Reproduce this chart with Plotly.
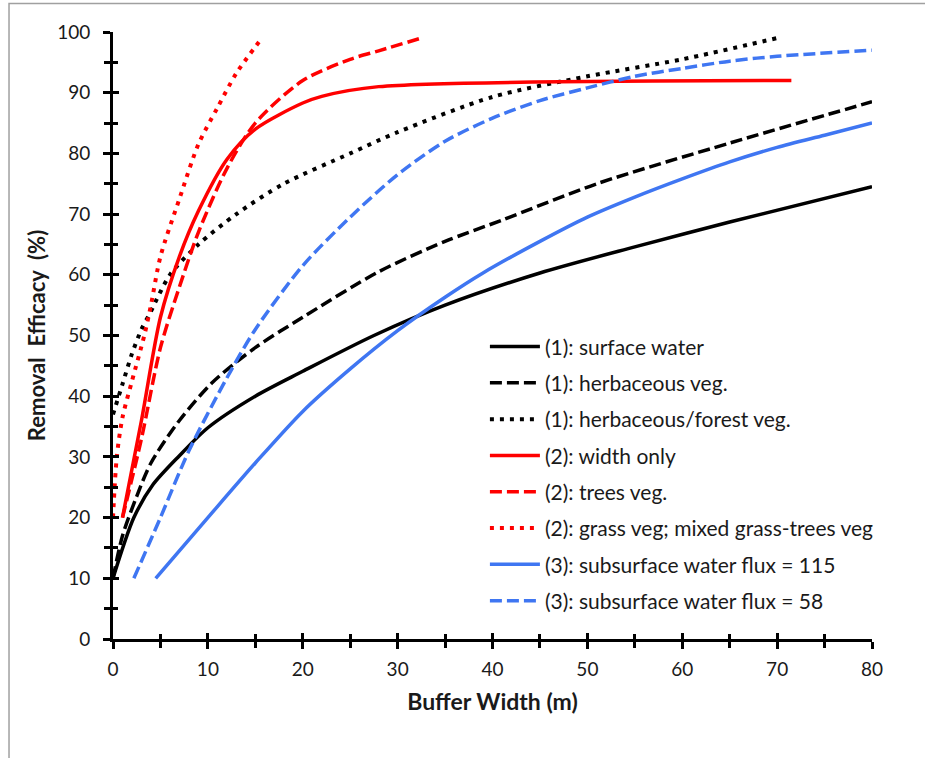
import plotly.graph_objects as go

# Buffer width (m) and removal efficacy (%) for each model curve
sw_x = [0, 2.2, 4.2, 7, 10, 15, 20, 27.5, 35, 45, 55, 65, 80]
sw_y = [10, 20, 25.4, 30.2, 34.8, 40, 44.1, 50, 55, 60.3, 64.6, 68.7, 74.5]

herb_x = [0, 1, 2.5, 4, 7, 10.5, 15, 20, 28, 35, 41, 51, 65, 80]
herb_y = [10, 17, 23.5, 29, 36, 42.3, 48, 53, 60.5, 65.5, 69, 75, 81.7, 88.5]

forest_x = [0, 1, 2, 3, 4, 6, 9, 13, 18, 25, 30, 40, 50, 60, 70]
forest_y = [37, 42, 47, 51, 54, 60, 65, 70, 75, 80, 83.5, 89.3, 92.7, 95.5, 99]

width_x = [1, 3, 5, 7, 9, 12, 15, 20, 22, 28, 71.5]
width_y = [20, 36, 53, 63, 70.5, 79, 84, 88.3, 89.4, 91, 92]

trees_x = [1, 3, 5, 7, 9, 12, 15, 20, 25, 28, 32.5]
trees_y = [20, 33, 48, 58, 67, 77.5, 85, 92, 95.5, 96.9, 99]

grass_x = [0, 0.4, 1, 2, 3.3, 4, 5, 7, 9, 11, 13, 15.7]
grass_y = [20, 30, 36.5, 42.5, 50, 55, 63, 72.5, 81.5, 87.5, 93.2, 99]

flux115_x = [4.5, 10, 15, 20, 25, 30, 35, 39, 45, 50, 55, 60, 65, 70, 75, 80]
flux115_y = [10, 20, 29, 37.5, 44.5, 50.8, 56.3, 60.3, 65.5, 69.5, 72.8, 75.8, 78.6, 81, 83, 85]

flux58_x = [2.2, 5, 8, 12, 15, 20, 25, 30, 35, 40, 45, 50, 55, 60, 65, 70, 80]
flux58_y = [10, 20, 31, 43, 51, 61.5, 69.5, 76.5, 82, 85.8, 88.7, 90.8, 92.7, 94, 95.2, 96, 97]

names = [
    "(1): surface water",
    "(1): herbaceous veg.",
    "(1): herbaceous/forest veg.",
    "(2): width only",
    "(2): trees veg.",
    "(2): grass veg; mixed grass-trees veg",
    "(3): subsurface water flux = 115",
    "(3): subsurface water flux = 58",
]

BLACK = "#000000"
RED = "#FF0000"
BLUE = "#3F76F2"
DASH = "12px,5px"
DOT = "4px,6px"

series = [
    (sw_x, sw_y, BLACK, "solid", 3.5),
    (herb_x, herb_y, BLACK, DASH, 3.5),
    (forest_x, forest_y, BLACK, DOT, 4),
    (width_x, width_y, RED, "solid", 3.5),
    (trees_x, trees_y, RED, DASH, 3.5),
    (grass_x, grass_y, RED, DOT, 4),
    (flux115_x, flux115_y, BLUE, "solid", 3.5),
    (flux58_x, flux58_y, BLUE, DASH, 3.5),
]

FONT = "Lato"
TXT = "#1a1a1a"

fig = go.Figure()
for i, ((xs, ys, col, dash, w), name) in enumerate(zip(series, names)):
    fig.add_trace(go.Scatter(
        x=xs, y=ys, mode="lines", name=name,
        legendgroup=f"g{i}",
        line=dict(color=col, dash=dash, width=w, shape="spline", smoothing=0.8),
    ))

axis_common = dict(
    showgrid=False, zeroline=False,
    showline=True, linecolor="black", linewidth=3,
    ticks="outside", ticklen=7, tickwidth=2.5, tickcolor="black",
    tickfont=dict(family=FONT, size=19, color=TXT),
    minor=dict(ticks="outside", ticklen=6, tickwidth=2.5, tickcolor="black", dtick=5),
)

fig.update_layout(
    width=925, height=758,
    margin=dict(l=113, r=53, t=32, b=119),
    paper_bgcolor="white", plot_bgcolor="white",
    font=dict(family=FONT, size=19, color=TXT),
    showlegend=True,
    legend=dict(
        x=0.49, y=0.515, xanchor="left", yanchor="top",
        bgcolor="rgba(0,0,0,0)", borderwidth=0,
        font=dict(family=FONT, size=21, color=TXT),
        tracegroupgap=6, itemwidth=50,
    ),
    xaxis=dict(
        range=[0, 80], dtick=10, tick0=0, ticklabelstandoff=4,
        title=dict(text="<b>Buffer Width (m)</b>", font=dict(family=FONT, size=23, color=TXT), standoff=16),
        **axis_common,
    ),
    yaxis=dict(
        range=[0, 100], dtick=10, tick0=0, ticklabelstandoff=9,
        title=dict(text="<b>Removal\u00a0 Efficacy\u00a0 (%)</b>", font=dict(family=FONT, size=22, color=TXT), standoff=6),
        **axis_common,
    ),
    # inner half of the crossing tick marks
    xaxis2=dict(
        overlaying="x", anchor="y", side="bottom", range=[0, 80], dtick=10, tick0=0,
        showgrid=False, zeroline=False, showline=False, showticklabels=False,
        ticks="inside", ticklen=6, tickwidth=2.5, tickcolor="black",
        minor=dict(ticks="inside", ticklen=5, tickwidth=2.5, tickcolor="black", dtick=5),
    ),
    yaxis2=dict(
        overlaying="y", anchor="x", side="left", range=[0, 100], dtick=10, tick0=0,
        showgrid=False, zeroline=False, showline=False, showticklabels=False,
        ticks="inside", ticklen=6, tickwidth=2.5, tickcolor="black",
        minor=dict(ticks="inside", ticklen=5, tickwidth=2.5, tickcolor="black", dtick=5),
    ),
)

# invisible helper trace so the overlay axes are drawn
fig.add_trace(go.Scatter(x=[0], y=[0], xaxis="x2", yaxis="y2", mode="markers",
                         marker=dict(opacity=0), showlegend=False, hoverinfo="skip"))

# chart-area frame
fig.add_shape(type="rect", xref="paper", yref="paper",
              x0=-0.137, x1=1.2, y0=-0.3, y1=1.047,
              line=dict(color="#a0a0a0", width=1.5), layer="below")

fig.write_html("out.html")
